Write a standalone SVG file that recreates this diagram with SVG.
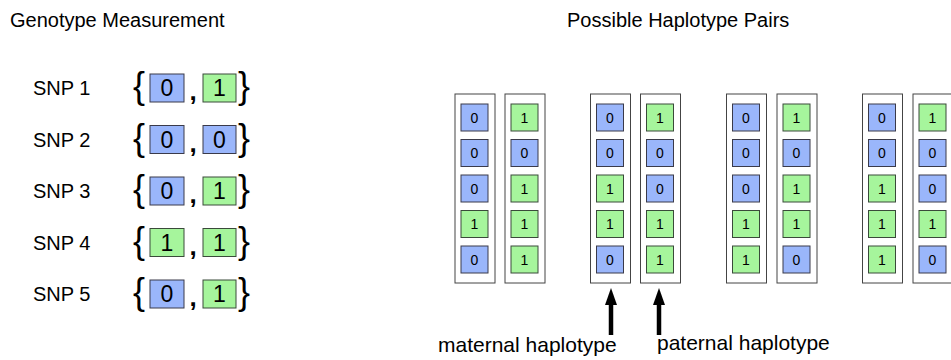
<svg xmlns="http://www.w3.org/2000/svg" width="951" height="360" viewBox="0 0 951 360">
  <style>
    text { font-family: "Liberation Sans", Arial, sans-serif; fill: #000; }
    .title { font-size: 20px; }
    .snp { font-size: 20px; }
    .brace { font-size: 36px; }
    .comma { font-size: 26px; font-weight: bold; text-anchor: middle; }
    .gd { font-size: 23px; text-anchor: middle; }
    .hd { font-size: 14px; text-anchor: middle; }
    .lbl { font-size: 21px; }
    .b0 { fill: #9ab6fb; stroke: #3a3a4a; stroke-width: 1; }
    .b1 { fill: #a6f59c; stroke: #3a4a3a; stroke-width: 1; }
    .col { fill: #fff; stroke: #444; stroke-width: 1; }
    .arrow { stroke: #000; stroke-width: 4.5; fill: none; }
  </style>
  <defs>
    <!-- solid triangular head, drawn pointing along +x -->
    <marker id="head" viewBox="0 0 17 12" refX="4" refY="6" markerUnits="userSpaceOnUse" markerWidth="17" markerHeight="12" orient="auto">
      <path d="M0,0 L17,6 L0,12 Z" fill="#000"/>
    </marker>
  </defs>

  <text class="title" x="10" y="27">Genotype Measurement</text>
  <text class="title" x="567" y="27">Possible  Haplotype Pairs</text>

  <!-- genotype rows -->
  <g id="snp1" transform="translate(0,88)">
    <text class="snp" x="33" y="7">SNP 1</text>
    <text class="brace" x="133" y="10">{</text>
    <rect class="b0" x="150" y="-14" width="34" height="28"/><text class="gd" x="167" y="8">0</text>
    <text class="comma" x="193" y="12">,</text>
    <rect class="b1" x="203" y="-14" width="33" height="28"/><text class="gd" x="219.5" y="8">1</text>
    <text class="brace" x="238" y="10">}</text>
  </g>
  <g id="snp2" transform="translate(0,139.5)">
    <text class="snp" x="33" y="7">SNP 2</text>
    <text class="brace" x="133" y="10">{</text>
    <rect class="b0" x="150" y="-14" width="34" height="28"/><text class="gd" x="167" y="8">0</text>
    <text class="comma" x="193" y="12">,</text>
    <rect class="b0" x="203" y="-14" width="33" height="28"/><text class="gd" x="219.5" y="8">0</text>
    <text class="brace" x="238" y="10">}</text>
  </g>
  <g id="snp3" transform="translate(0,191)">
    <text class="snp" x="33" y="7">SNP 3</text>
    <text class="brace" x="133" y="10">{</text>
    <rect class="b0" x="150" y="-14" width="34" height="28"/><text class="gd" x="167" y="8">0</text>
    <text class="comma" x="193" y="12">,</text>
    <rect class="b1" x="203" y="-14" width="33" height="28"/><text class="gd" x="219.5" y="8">1</text>
    <text class="brace" x="238" y="10">}</text>
  </g>
  <g id="snp4" transform="translate(0,242.5)">
    <text class="snp" x="33" y="7">SNP 4</text>
    <text class="brace" x="133" y="10">{</text>
    <rect class="b1" x="150" y="-14" width="34" height="28"/><text class="gd" x="167" y="8">1</text>
    <text class="comma" x="193" y="12">,</text>
    <rect class="b1" x="203" y="-14" width="33" height="28"/><text class="gd" x="219.5" y="8">1</text>
    <text class="brace" x="238" y="10">}</text>
  </g>
  <g id="snp5" transform="translate(0,294)">
    <text class="snp" x="33" y="7">SNP 5</text>
    <text class="brace" x="133" y="10">{</text>
    <rect class="b0" x="150" y="-14" width="34" height="28"/><text class="gd" x="167" y="8">0</text>
    <text class="comma" x="193" y="12">,</text>
    <rect class="b1" x="203" y="-14" width="33" height="28"/><text class="gd" x="219.5" y="8">1</text>
    <text class="brace" x="238" y="10">}</text>
  </g>

  <!-- haplotype pair 1 -->
  <g id="pair1-m" transform="translate(455,94)">
    <rect class="col" x="0" y="0" width="40" height="189"/>
    <rect class="b0" x="6" y="10" width="27" height="27"/><text class="hd" x="19.5" y="28.5">0</text>
    <rect class="b0" x="6" y="45.5" width="27" height="27"/><text class="hd" x="19.5" y="64">0</text>
    <rect class="b0" x="6" y="81" width="27" height="27"/><text class="hd" x="19.5" y="99.5">0</text>
    <rect class="b1" x="6" y="116.5" width="27" height="27"/><text class="hd" x="19.5" y="135">1</text>
    <rect class="b0" x="6" y="152" width="27" height="27"/><text class="hd" x="19.5" y="170.5">0</text>
  </g>
  <g id="pair1-p" transform="translate(505,94)">
    <rect class="col" x="0" y="0" width="40" height="189"/>
    <rect class="b1" x="6" y="10" width="27" height="27"/><text class="hd" x="19.5" y="28.5">1</text>
    <rect class="b0" x="6" y="45.5" width="27" height="27"/><text class="hd" x="19.5" y="64">0</text>
    <rect class="b1" x="6" y="81" width="27" height="27"/><text class="hd" x="19.5" y="99.5">1</text>
    <rect class="b1" x="6" y="116.5" width="27" height="27"/><text class="hd" x="19.5" y="135">1</text>
    <rect class="b1" x="6" y="152" width="27" height="27"/><text class="hd" x="19.5" y="170.5">1</text>
  </g>

  <!-- haplotype pair 2 -->
  <g id="pair2-m" transform="translate(590.5,94)">
    <rect class="col" x="0" y="0" width="40" height="189"/>
    <rect class="b0" x="6" y="10" width="27" height="27"/><text class="hd" x="19.5" y="28.5">0</text>
    <rect class="b0" x="6" y="45.5" width="27" height="27"/><text class="hd" x="19.5" y="64">0</text>
    <rect class="b1" x="6" y="81" width="27" height="27"/><text class="hd" x="19.5" y="99.5">1</text>
    <rect class="b1" x="6" y="116.5" width="27" height="27"/><text class="hd" x="19.5" y="135">1</text>
    <rect class="b0" x="6" y="152" width="27" height="27"/><text class="hd" x="19.5" y="170.5">0</text>
  </g>
  <g id="pair2-p" transform="translate(640.5,94)">
    <rect class="col" x="0" y="0" width="40" height="189"/>
    <rect class="b1" x="6" y="10" width="27" height="27"/><text class="hd" x="19.5" y="28.5">1</text>
    <rect class="b0" x="6" y="45.5" width="27" height="27"/><text class="hd" x="19.5" y="64">0</text>
    <rect class="b0" x="6" y="81" width="27" height="27"/><text class="hd" x="19.5" y="99.5">0</text>
    <rect class="b1" x="6" y="116.5" width="27" height="27"/><text class="hd" x="19.5" y="135">1</text>
    <rect class="b1" x="6" y="152" width="27" height="27"/><text class="hd" x="19.5" y="170.5">1</text>
  </g>

  <!-- haplotype pair 3 -->
  <g id="pair3-m" transform="translate(726.5,94)">
    <rect class="col" x="0" y="0" width="40" height="189"/>
    <rect class="b0" x="6" y="10" width="27" height="27"/><text class="hd" x="19.5" y="28.5">0</text>
    <rect class="b0" x="6" y="45.5" width="27" height="27"/><text class="hd" x="19.5" y="64">0</text>
    <rect class="b0" x="6" y="81" width="27" height="27"/><text class="hd" x="19.5" y="99.5">0</text>
    <rect class="b1" x="6" y="116.5" width="27" height="27"/><text class="hd" x="19.5" y="135">1</text>
    <rect class="b1" x="6" y="152" width="27" height="27"/><text class="hd" x="19.5" y="170.5">1</text>
  </g>
  <g id="pair3-p" transform="translate(777,94)">
    <rect class="col" x="0" y="0" width="40" height="189"/>
    <rect class="b1" x="6" y="10" width="27" height="27"/><text class="hd" x="19.5" y="28.5">1</text>
    <rect class="b0" x="6" y="45.5" width="27" height="27"/><text class="hd" x="19.5" y="64">0</text>
    <rect class="b1" x="6" y="81" width="27" height="27"/><text class="hd" x="19.5" y="99.5">1</text>
    <rect class="b1" x="6" y="116.5" width="27" height="27"/><text class="hd" x="19.5" y="135">1</text>
    <rect class="b0" x="6" y="152" width="27" height="27"/><text class="hd" x="19.5" y="170.5">0</text>
  </g>

  <!-- haplotype pair 4 -->
  <g id="pair4-m" transform="translate(862.5,94)">
    <rect class="col" x="0" y="0" width="40" height="189"/>
    <rect class="b0" x="6" y="10" width="27" height="27"/><text class="hd" x="19.5" y="28.5">0</text>
    <rect class="b0" x="6" y="45.5" width="27" height="27"/><text class="hd" x="19.5" y="64">0</text>
    <rect class="b1" x="6" y="81" width="27" height="27"/><text class="hd" x="19.5" y="99.5">1</text>
    <rect class="b1" x="6" y="116.5" width="27" height="27"/><text class="hd" x="19.5" y="135">1</text>
    <rect class="b1" x="6" y="152" width="27" height="27"/><text class="hd" x="19.5" y="170.5">1</text>
  </g>
  <g id="pair4-p" transform="translate(913,94)">
    <rect class="col" x="0" y="0" width="40" height="189"/>
    <rect class="b1" x="6" y="10" width="27" height="27"/><text class="hd" x="19.5" y="28.5">1</text>
    <rect class="b0" x="6" y="45.5" width="27" height="27"/><text class="hd" x="19.5" y="64">0</text>
    <rect class="b0" x="6" y="81" width="27" height="27"/><text class="hd" x="19.5" y="99.5">0</text>
    <rect class="b1" x="6" y="116.5" width="27" height="27"/><text class="hd" x="19.5" y="135">1</text>
    <rect class="b0" x="6" y="152" width="27" height="27"/><text class="hd" x="19.5" y="170.5">0</text>
  </g>

  <!-- pointer arrows -->
  <g id="connectors">
    <path class="arrow" d="M611,335 L611,301" marker-end="url(#head)"/>
    <path class="arrow" d="M659,335 L659,301" marker-end="url(#head)"/>
  </g>

  <text class="lbl" x="438" y="352">maternal haplotype</text>
  <text class="lbl" x="657" y="350">paternal haplotype</text>
</svg>
